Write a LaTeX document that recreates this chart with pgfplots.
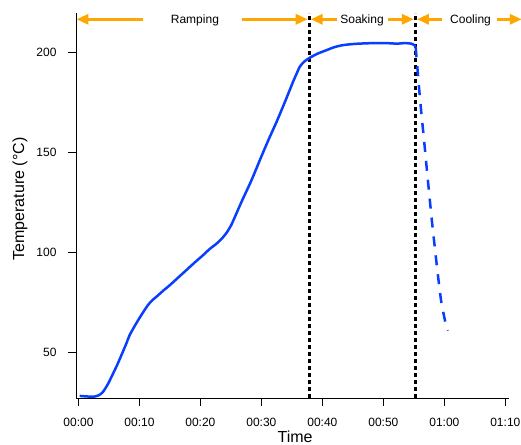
\documentclass[border=0pt]{standalone}
\usepackage{pgfplots}
\pgfplotsset{compat=1.18}
\usepackage{fontspec}
\setmainfont{Liberation Sans}
\usetikzlibrary{arrows.meta,calc}
\definecolor{curveblue}{RGB}{10,62,255}
\definecolor{arroworange}{RGB}{255,166,0}
\begin{document}
\begin{tikzpicture}
\begin{axis}[
  name=ax,
  scale only axis,
  width=433pt, height=385pt,
  xmin=-0.4, xmax=70.6,
  ymin=27.15, ymax=219.65,
  axis x line=bottom, axis y line=left,
  axis line style={-, line width=0.8pt},
  tick align=outside,
  major tick length=8pt,
  tick style={line width=0.8pt, black},
  xtick={0,10,20,30,40,50,60,70},
  xticklabels={00:00,00:10,00:20,00:30,00:40,00:50,01:00,01:10},
  ytick={50,100,150,200},
  ticklabel style={font=\fontsize{12}{14}\selectfont},
  xticklabel style={yshift=-9pt},
  yticklabel style={xshift=-8pt},
  /pgf/number format/assume math mode=true,
  xlabel={Time},
  ylabel={Temperature (°C)},
  xlabel style={font=\fontsize{16}{18}\selectfont, at={(rel axis cs:0.506,0)}, anchor=base, yshift=-44pt},
  ylabel style={font=\fontsize{16}{18}\selectfont, at={(rel axis cs:0,0.517)}, anchor=center, rotate=0, yshift=56pt},
  clip=false,
]
\coordinate (O) at (rel axis cs:0,0);
% phase boundaries
\addplot[black, line width=3pt, dash pattern=on 4pt off 3pt] coordinates {(37.84,27.15) (37.84,219.65)};
\addplot[black, line width=3pt, dash pattern=on 4pt off 3pt] coordinates {(55.24,27.15) (55.24,219.65)};
% heating curve
\addplot[curveblue, line width=2.5pt, smooth, tension=0.4] coordinates {
(0.2,28.2) (1.5,27.9) (2.7,27.9) (3.5,28.8) (4.1,30.5) (4.9,34.5) (5.7,39.5) (6.4,44)
(7.05,48.6) (7.8,54) (8.4,58.6) (9.1,62.5) (9.8,66.1) (10.6,70) (11.4,73.6) (12.1,76)
(12.8,77.8) (13.9,80.8) (15.0,83.6) (16.4,87.5) (17.7,91.1) (19.1,95) (20.45,98.6)
(21.5,101.6) (22.6,104.2) (23.5,106.8) (24.3,109.8) (25.0,113.3) (25.6,117.3) (26.2,121.5)
(26.9,126.3) (28.4,136.2) (29.75,146.1) (31.1,155.8) (32.5,165.3) (33.9,175.5) (35.2,185.3)
(35.8,189.5) (36.3,192.8) (37.0,195.3) (37.95,197.3) (39.2,199.3) (40.7,201.1) (42.0,202.6)
(43.4,203.6) (45.3,204.2) (47.3,204.5) (49,204.6) (50.5,204.6) (51.6,204.4) (52.7,204.4)
(53.5,204.6) (54.6,204.3) (55.1,203.5) (55.3,202.5)
};
% cooling (dashed)
\addplot[curveblue, line width=2.5pt, smooth, tension=0.4, dash pattern=on 10pt off 9pt] coordinates {
(55.3,202.5) (56.0,177) (56.67,156.1) (57.33,135.1) (57.98,115.1) (58.72,94.6) (59.1,84.6)
(59.53,74.6) (60.27,63.6) (60.6,60.8)
};
% phase arrows
\addplot[arroworange, line width=3.5pt, -{Triangle[length=12pt,width=10pt]}] coordinates {(10.6,216.5) (-0.33,216.5)};
\addplot[arroworange, line width=3.5pt, -{Triangle[length=12pt,width=10pt]}] coordinates {(26.75,216.5) (37.6,216.5)};
\addplot[arroworange, line width=3.5pt, -{Triangle[length=12pt,width=10pt]}] coordinates {(42.4,216.5) (38.07,216.5)};
\addplot[arroworange, line width=3.5pt, -{Triangle[length=12pt,width=10pt]}] coordinates {(50.75,216.5) (55.0,216.5)};
\addplot[arroworange, line width=3.5pt, -{Triangle[length=12pt,width=10pt]}] coordinates {(59.6,216.5) (55.5,216.5)};
\addplot[arroworange, line width=3.5pt, -{Triangle[length=12pt,width=10pt]}] coordinates {(68.6,216.5) (72.7,216.5)};
\node[anchor=base, font=\fontsize{12}{14}\selectfont] at (axis cs:19.1,214.3) {Ramping};
\node[anchor=base, font=\fontsize{12}{14}\selectfont] at (axis cs:46.5,214.3) {Soaking};
\node[anchor=base, font=\fontsize{12}{14}\selectfont] at (axis cs:64.3,214.3) {Cooling};
\end{axis}
\pgfresetboundingbox
\path ($(O)+(-76pt,-46pt)$) rectangle ($(O)+(445pt,398pt)$);
\end{tikzpicture}
\end{document}
